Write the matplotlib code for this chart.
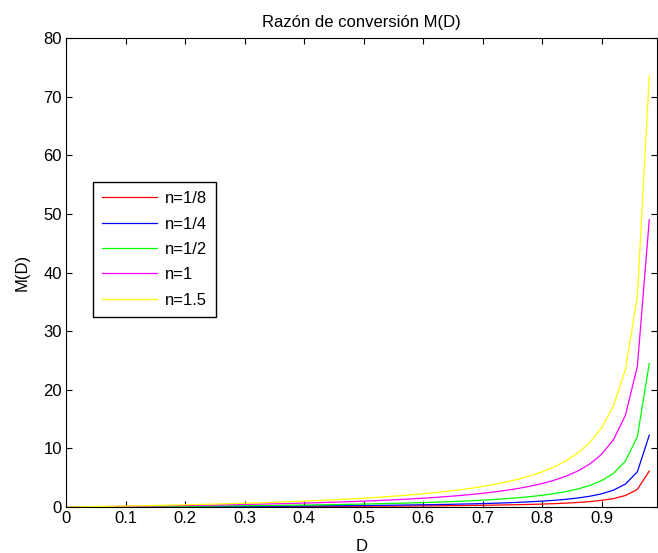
import numpy as np
from matplotlib import pyplot as plt

plt.rcParams['font.family'] = ['Liberation Sans', 'DejaVu Sans']

# D values (step 0.02)
D = [0.00, 0.02, 0.04, 0.06, 0.08, 0.10, 0.12, 0.14, 0.16, 0.18,
     0.20, 0.22, 0.24, 0.26, 0.28, 0.30, 0.32, 0.34, 0.36, 0.38,
     0.40, 0.42, 0.44, 0.46, 0.48, 0.50, 0.52, 0.54, 0.56, 0.58,
     0.60, 0.62, 0.64, 0.66, 0.68, 0.70, 0.72, 0.74, 0.76, 0.78,
     0.80, 0.82, 0.84, 0.86, 0.88, 0.90, 0.92, 0.94, 0.96, 0.98]

m_n18 = [0.00, 0.00, 0.01, 0.01, 0.01, 0.01, 0.02, 0.02, 0.02, 0.03,
         0.03, 0.04, 0.04, 0.04, 0.05, 0.05, 0.06, 0.06, 0.07, 0.08,
         0.08, 0.09, 0.10, 0.11, 0.12, 0.13, 0.14, 0.15, 0.16, 0.17,
         0.19, 0.20, 0.22, 0.24, 0.27, 0.29, 0.32, 0.36, 0.40, 0.44,
         0.50, 0.57, 0.66, 0.77, 0.92, 1.13, 1.44, 1.96, 3.00, 6.13]

m_n14 = [0.00, 0.01, 0.01, 0.02, 0.02, 0.03, 0.03, 0.04, 0.05, 0.05,
         0.06, 0.07, 0.08, 0.09, 0.10, 0.11, 0.12, 0.13, 0.14, 0.15,
         0.17, 0.18, 0.20, 0.21, 0.23, 0.25, 0.27, 0.29, 0.32, 0.35,
         0.38, 0.41, 0.44, 0.49, 0.53, 0.58, 0.64, 0.71, 0.79, 0.89,
         1.00, 1.14, 1.31, 1.54, 1.83, 2.25, 2.88, 3.92, 6.00, 12.25]

m_n12 = [0.00, 0.01, 0.02, 0.03, 0.04, 0.06, 0.07, 0.08, 0.10, 0.11,
         0.13, 0.14, 0.16, 0.18, 0.19, 0.21, 0.24, 0.26, 0.28, 0.31,
         0.33, 0.36, 0.39, 0.43, 0.46, 0.50, 0.54, 0.59, 0.64, 0.69,
         0.75, 0.82, 0.89, 0.97, 1.06, 1.17, 1.29, 1.42, 1.58, 1.77,
         2.00, 2.28, 2.63, 3.07, 3.67, 4.50, 5.75, 7.83, 12.00, 24.50]

m_n1 = [0.00, 0.02, 0.04, 0.06, 0.09, 0.11, 0.14, 0.16, 0.19, 0.22,
        0.25, 0.28, 0.32, 0.35, 0.39, 0.43, 0.47, 0.52, 0.56, 0.61,
        0.67, 0.72, 0.79, 0.85, 0.92, 1.00, 1.08, 1.17, 1.27, 1.38,
        1.50, 1.63, 1.78, 1.94, 2.13, 2.33, 2.57, 2.85, 3.17, 3.55,
        4.00, 4.56, 5.25, 6.14, 7.33, 9.00, 11.50, 15.67, 24.00, 49.00]

m_n15 = [0.00, 0.03, 0.06, 0.10, 0.13, 0.17, 0.20, 0.24, 0.29, 0.33,
         0.38, 0.42, 0.47, 0.53, 0.58, 0.64, 0.71, 0.77, 0.84, 0.92,
         1.00, 1.09, 1.18, 1.28, 1.38, 1.50, 1.63, 1.76, 1.91, 2.07,
         2.25, 2.45, 2.67, 2.91, 3.19, 3.50, 3.86, 4.27, 4.75, 5.32,
         6.00, 6.83, 7.88, 9.21, 11.00, 13.50, 17.25, 23.50, 36.00, 73.50]

labels = ['n=1/8', 'n=1/4', 'n=1/2', 'n=1', 'n=1.5']
colors = ['#ff0000', '#0000ff', '#00ff00', '#ff00ff', '#ffff00']
xtick_labels = ['0', '0.1', '0.2', '0.3', '0.4', '0.5', '0.6', '0.7', '0.8', '0.9']

fig = plt.figure(figsize=(6.58, 5.53), dpi=100)
ax = fig.add_axes([0.1003, 0.0832, 0.8982, 0.848])

for ys, lab, c in zip([m_n18, m_n14, m_n12, m_n1, m_n15], labels, colors):
    ax.plot(D, ys, color=c, linewidth=0.9, label=lab)

ax.set_xlim(0, 0.993)
ax.set_ylim(0, 80)
ax.set_xticks(np.arange(0, 0.95, 0.1))
ax.set_xticklabels(xtick_labels)
ax.set_yticks(np.arange(0, 81, 10))
ax.tick_params(direction='in', top=True, right=True, length=4, width=0.8,
               labelsize=12, pad=3)
for s in ax.spines.values():
    s.set_linewidth(0.8)

fig.text(0.549, 0.960, 'Razón de conversión M(D)', fontsize=12,
         ha='center', va='center')
ax.set_xlabel('D', fontsize=12, va='center')
ax.xaxis.set_label_coords(0.5, -0.0853)
ax.set_ylabel('M(D)', fontsize=12, va='center')
ax.yaxis.set_label_coords(-0.0745, 0.5)

leg = ax.legend(loc='upper left', bbox_to_anchor=(0.046, 0.693), borderaxespad=0,
                fontsize=12, fancybox=False, framealpha=1, edgecolor='black',
                handlelength=3.25, handletextpad=0.48, labelspacing=0.62,
                borderpad=0.55)
leg.get_frame().set_linewidth(1.0)

plt.savefig('out.png', dpi=100)
